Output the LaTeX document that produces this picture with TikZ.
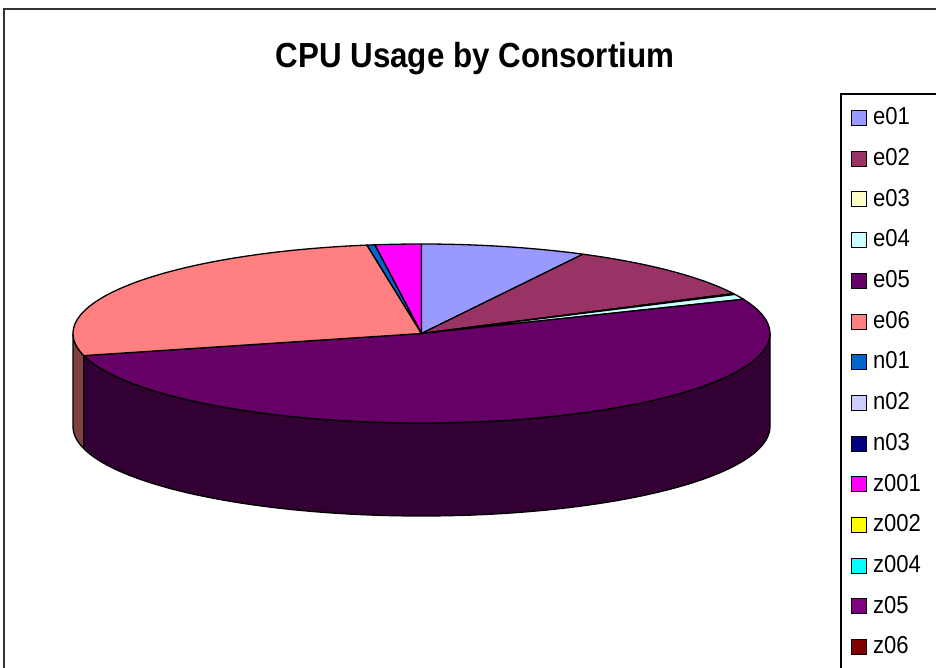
\documentclass[tikz,border=0pt]{standalone}
\usepackage{fontspec}
\setmainfont{Liberation Sans}
\definecolor{ce01}{HTML}{9999FF}
\definecolor{ce02}{HTML}{993366}
\definecolor{ce03}{HTML}{FFFFCC}
\definecolor{ce04}{HTML}{CCFFFF}
\definecolor{ce05}{HTML}{660066}
\definecolor{ce06}{HTML}{FF8080}
\definecolor{cn01}{HTML}{0066CC}
\definecolor{cn02}{HTML}{CCCCFF}
\definecolor{cn03}{HTML}{000080}
\definecolor{cz001}{HTML}{FF00FF}
\definecolor{cz002}{HTML}{FFFF00}
\definecolor{cz004}{HTML}{00FFFF}
\definecolor{cz05}{HTML}{800080}
\definecolor{cz06}{HTML}{800000}
\definecolor{we05}{HTML}{330033}
\definecolor{we06}{HTML}{804040}
\def\pcx{421.5}
\def\pcy{333.5}
\def\prx{348.5}
\def\pry{89.5}
\def\pdep{93}
\newcommand{\topslice}[3]{%
  \filldraw[fill=#3,pieline] (\pcx,\pcy) -- plot[domain=#1:#2,samples=90] ({\pcx+\prx*cos(\x)},{\pcy-\pry*sin(\x)}) -- cycle;}
\newcommand{\wallslice}[3]{%
  \filldraw[fill=#3,pieline] plot[domain=#1:#2,samples=90] ({\pcx+\prx*cos(\x)},{\pcy-\pry*sin(\x)}) -- plot[domain=#2:#1,samples=90] ({\pcx+\prx*cos(\x)},{\pcy-\pry*sin(\x)+\pdep}) -- cycle;}
\tikzset{
  pieline/.style={draw=black,line width=1.3pt,line join=round},
  legsq/.style={draw=black,line width=1pt},
  legtxt/.style={font=\fontsize{24.5}{28}\selectfont,xscale=0.9,anchor=base west,inner sep=0pt},
  frameline/.style={draw=black!80,line width=1.5pt},
}
\begin{document}
\begin{tikzpicture}[x=1pt,y=-1pt]
\useasboundingbox (0,0) rectangle (936,668);
\clip (0,0) rectangle (936,668);
\fill[white] (0,0) rectangle (936,668);
% outer frame
\draw[frameline] (4,700) -- (4,9) -- (960,9);
% title
\node[font=\fontsize{34.8}{40}\selectfont\bfseries,xscale=0.9,anchor=base,inner sep=0pt] (title) at (475,67.5) {CPU Usage by Consortium};
% pie walls
\wallslice{180}{194.3}{we06}
\wallslice{194.3}{360}{we05}
% pie top
\topslice{97.7}{90}{cz001}
\topslice{90}{62.4}{ce01}
\topslice{62.4}{26.5}{ce02}
\topslice{26.5}{25.9}{ce03}
\topslice{25.9}{22.5}{ce04}
\topslice{22.5}{-165.7}{ce05}
\topslice{194.3}{99}{ce06}
\topslice{99}{97.7}{cn01}
% legend
\draw[frameline,draw=black] (841,700) -- (841,94) -- (960,94);
\foreach \nm [count=\i from 0] in {e01,e02,e03,e04,e05,e06,n01,n02,n03,z001,z002,z004,z05,z06}{
  \pgfmathsetmacro{\yy}{118+40.7*\i}
  \draw[legsq,fill=c\nm] (851,\yy-7.5) rectangle (866,\yy+7.5);
  \node[legtxt] (lab\nm) at (873,\yy+6.7) {\nm};
}
\end{tikzpicture}
\end{document}
